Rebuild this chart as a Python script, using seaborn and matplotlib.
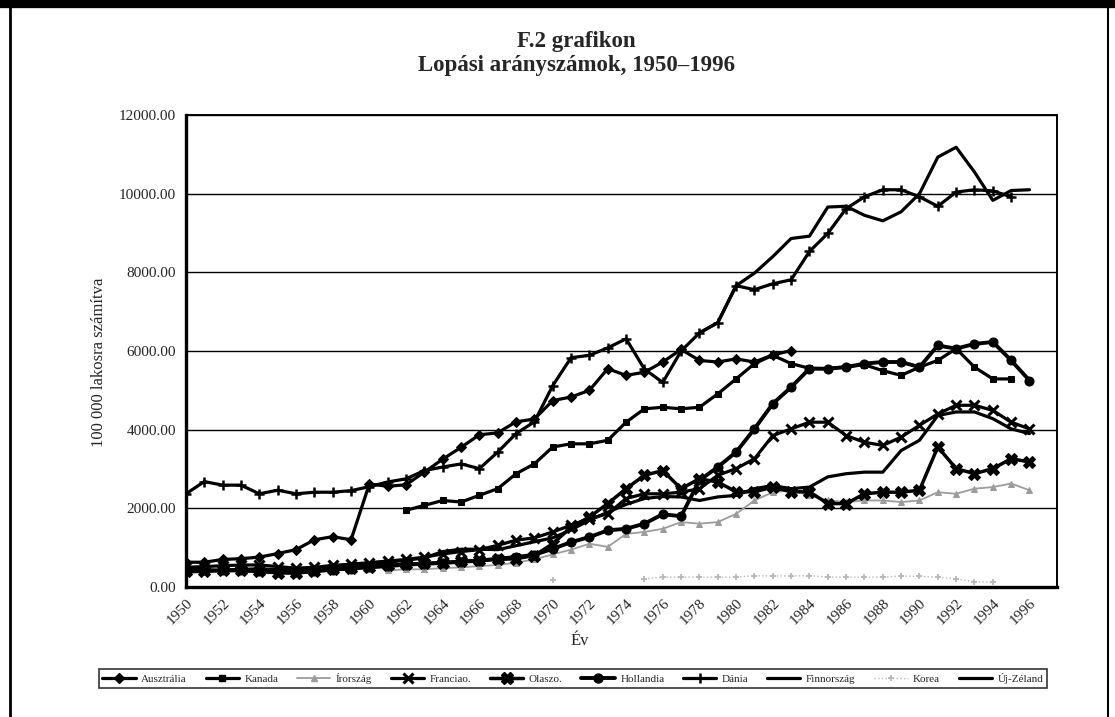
import numpy as np
import pandas as pd
import matplotlib
matplotlib.use("Agg")
import matplotlib.pyplot as plt
from matplotlib.lines import Line2D
from matplotlib.ticker import MultipleLocator, FormatStrFormatter
import seaborn as sns

# ---------------- data ----------------
ausztralia_start = 1950
ausztralia = [630, 630, 700, 720, 760, 850, 950, 1200, 1280, 1200,
              2620, 2560, 2600, 2920, 3250, 3550, 3870, 3920, 4200, 4270,
              4740, 4830, 5000, 5550, 5380, 5460, 5720, 6040, 5760, 5720,
              5800, 5720, 5900, 6010]

kanada_start = 1962
kanada = [1950, 2075, 2200, 2160, 2330, 2500, 2880, 3130,
          3560, 3640, 3640, 3730, 4190, 4530, 4570, 4530, 4570, 4910,
          5290, 5680, 5890, 5680, 5560, 5550, 5600, 5650, 5500, 5380,
          5590, 5760, 6060, 5590, 5290, 5290]

irorszag_start = 1961
irorszag = [420, 450, 450, 480, 500, 530, 560, 620, 700,
            830, 950, 1100, 1020, 1350, 1400, 1480, 1650, 1610, 1650,
            1860, 2200, 2410, 2460, 2330, 2200, 2160, 2200, 2200, 2160,
            2200, 2410, 2370, 2500, 2540, 2630, 2460]

franciao_start = 1950
franciao = [500, 520, 540, 560, 560, 520, 480, 500, 550, 580,
            620, 660, 700, 760, 840, 900, 950, 1060, 1190, 1250,
            1400, 1570, 1740, 1860, 2250, 2370, 2370, 2410, 2500, 2840,
            3010, 3260, 3850, 4020, 4190, 4190, 3850, 3680, 3600, 3810,
            4110, 4400, 4620, 4620, 4490, 4190, 4020]

olaszo_start = 1950
olaszo = [400, 400, 420, 430, 400, 360, 350, 400, 450, 480,
          520, 550, 580, 600, 620, 650, 680, 700, 720, 800,
          1100, 1520, 1780, 2120, 2500, 2840, 2960, 2500, 2750, 2670,
          2420, 2420, 2540, 2420, 2420, 2120, 2120, 2370, 2410, 2410,
          2460, 3560, 3010, 2880, 3010, 3260, 3180]

hollandia_start = 1950
hollandia = [450, 430, 420, 420, 400, 380, 380, 400, 440, 470,
             500, 530, 570, 590, 610, 640, 670, 720, 760, 820,
             970, 1140, 1270, 1440, 1480, 1610, 1850, 1800, 2710, 3050,
             3430, 4020, 4660, 5080, 5550, 5550, 5590, 5680, 5720, 5720,
             5590, 6140, 6060, 6180, 6230, 5760, 5250]

dania_start = 1950
dania = [2370, 2680, 2590, 2590, 2370, 2460, 2370, 2410, 2410, 2450,
         2550, 2670, 2750, 2960, 3050, 3130, 3010, 3430, 3900, 4200,
         5120, 5830, 5890, 6080, 6310, 5540, 5200, 6000, 6460, 6720,
         7660, 7560, 7710, 7810, 8530, 8990, 9620, 9920, 10100, 10100,
         9920, 9680, 10040, 10100, 10070, 9920]

finnorszag_start = 1950
finnorszag = [380, 400, 430, 450, 460, 440, 440, 470, 500, 540,
              580, 630, 680, 740, 900, 960, 960, 950, 1050, 1150,
              1250, 1450, 1700, 1900, 2100, 2250, 2300, 2290, 2200, 2290,
              2330, 2500, 2580, 2500, 2540, 2800, 2880, 2920, 2920, 3470,
              3730, 4360, 4450, 4450, 4280, 4020, 3900]

korea_early_year = [1970]
korea_early = [170]
korea_start = 1975
korea = [210, 250, 250, 250, 250, 250, 290, 280, 280, 290,
         250, 250, 250, 250, 280, 270, 250, 210, 130, 130]

ujzeland_start = 1978
ujzeland = [6460, 6720, 7660, 7980, 8400, 8860, 8920, 9660, 9680, 9450,
            9310, 9540, 10000, 10930, 11180, 10550, 9830, 10080, 10100]

x_tick_years = list(range(1950, 1997, 2))
y_ticks = [0, 2000, 4000, 6000, 8000, 10000, 12000]

# ---------------- styling ----------------
W, H = 1115, 717
sns.set_style("white")
plt.rcParams["font.family"] = ["Liberation Serif", "DejaVu Serif"]

fig = plt.figure(figsize=(W / 100, H / 100), dpi=100)
ax = fig.add_axes([186 / W, 1 - 587 / H, (1057 - 186) / W, (587 - 115) / H])

GRAY = "#9c9c9c"
LGRAY = "#b8b8b8"
K = "black"

styles = {
    "Ausztrália": dict(color=K, marker="D", markersize=5.5, linewidth=2.3),
    "Kanada": dict(color=K, marker="s", markersize=4.5, linewidth=2.3),
    "Írország": dict(color=GRAY, marker="^", markersize=4.5, linewidth=1.3),
    "Franciao.": dict(color=K, marker="x", markersize=6.5, markeredgewidth=2.2, linewidth=2.3),
    "Olaszo.": dict(color=K, marker="X", markersize=8.5, linewidth=2.5),
    "Hollandia": dict(color=K, marker="o", markersize=6.5, linewidth=2.8),
    "Dánia": dict(color=K, marker="+", markersize=7.5, markeredgewidth=1.8, linewidth=2.3),
    "Finnország": dict(color=K, marker=None, linewidth=2.3),
    "Korea": dict(color=LGRAY, marker="+", markersize=4.5, markeredgewidth=1.3,
                  linewidth=1.0, linestyle=":"),
    "Új-Zéland": dict(color=K, marker=None, linewidth=2.3),
}

series = [
    ("Ausztrália", ausztralia_start, ausztralia),
    ("Kanada", kanada_start, kanada),
    ("Írország", irorszag_start, irorszag),
    ("Franciao.", franciao_start, franciao),
    ("Olaszo.", olaszo_start, olaszo),
    ("Hollandia", hollandia_start, hollandia),
    ("Dánia", dania_start, dania),
    ("Finnország", finnorszag_start, finnorszag),
    ("Korea", korea_start, korea),
    ("Új-Zéland", ujzeland_start, ujzeland),
]

for name, start, vals in series:
    df = pd.DataFrame({"Év": np.arange(start, start + len(vals)), "érték": vals})
    st = dict(styles[name])
    if st.get("marker") is None:
        st.pop("marker")
    sns.lineplot(data=df, x="Év", y="érték", ax=ax, estimator=None, sort=False,
                 legend=False, markeredgecolor=st["color"], **st)

# isolated Korea point
dfk = pd.DataFrame({"Év": korea_early_year, "érték": korea_early})
stk = dict(styles["Korea"])
sns.lineplot(data=dfk, x="Év", y="érték", ax=ax, estimator=None, legend=False,
             markeredgecolor=stk["color"], **stk)

# axes
ax.set_xlim(1950, 1997.5)
ax.set_ylim(0, 12000)
ax.set_xticks(x_tick_years)
ax.set_xticklabels([str(y) for y in x_tick_years], rotation=45, ha="right",
                   rotation_mode="anchor", fontsize=11)
ax.xaxis.set_minor_locator(MultipleLocator(1))
ax.set_yticks(y_ticks)
ax.yaxis.set_major_formatter(FormatStrFormatter("%.2f"))
ax.tick_params(axis="y", labelsize=11, direction="out", length=4, width=1, pad=3)
ax.tick_params(axis="x", which="major", direction="out", length=4, width=1, pad=3)
ax.tick_params(axis="x", which="minor", direction="out", length=3, width=1)
ax.set_xlabel("")
ax.set_ylabel("")
ax.yaxis.grid(True, color="black", linewidth=1.0)
ax.xaxis.grid(False)
ax.set_axisbelow(True)
for s in ["left", "bottom"]:
    ax.spines[s].set_linewidth(2.4)
    ax.spines[s].set_color("black")
for s in ["right", "top"]:
    ax.spines[s].set_linewidth(1.4)
    ax.spines[s].set_color("black")

# texts
fig.text(576 / W, 1 - 42 / H, "F.2 grafikon", ha="center", va="center",
         fontsize=16.5, fontweight="bold")
fig.text(576 / W, 1 - 66 / H, "Lopási arányszámok, 1950–1996", ha="center",
         va="center", fontsize=16.5, fontweight="bold")
fig.text(99 / W, 1 - 362 / H, "100 000 lakosra számítva", rotation=90,
         ha="center", va="center", fontsize=12)
fig.text(580 / W, 1 - 641 / H, "Év", ha="center", va="center", fontsize=12)

# legend
handles = []
for name, _, _ in series:
    st = dict(styles[name])
    handles.append(Line2D([], [], label=name, markeredgecolor=st["color"], **st))
leg = fig.legend(handles=handles, loc="center", ncol=10, mode="expand",
                 bbox_to_anchor=(93 / W, 1 - 690 / H, (1053 - 93) / W, 23 / H),
                 fontsize=8, frameon=True, fancybox=False, borderpad=0.35,
                 handlelength=3.0, handletextpad=0.5, columnspacing=0.8)
leg.get_frame().set_edgecolor("black")
leg.get_frame().set_linewidth(1.2)

# scan border
fig.add_artist(Line2D([0, 1], [1 - 4 / H, 1 - 4 / H], transform=fig.transFigure,
                      color="black", linewidth=6))
fig.add_artist(Line2D([10 / W, 10 / W], [0, 1], transform=fig.transFigure,
                      color="black", linewidth=2))
fig.add_artist(Line2D([1108 / W, 1108 / W], [0, 1], transform=fig.transFigure,
                      color="black", linewidth=1.5))

fig.savefig("out.png", dpi=100)
